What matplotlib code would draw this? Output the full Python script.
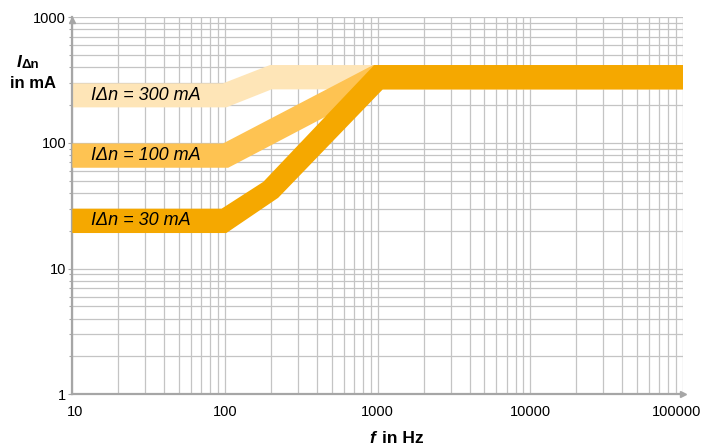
import matplotlib
matplotlib.use("Agg")
import matplotlib.pyplot as plt
import matplotlib.transforms as mtransforms
from matplotlib.ticker import LogLocator, NullFormatter

# =========================
# Data
# =========================

# band edges, frequency in Hz / current in mA
f_300_up = [10, 97, 197, 100000]
i_300_up = [298, 298, 417, 417]
f_300_lo = [10, 102, 202, 100000]
i_300_lo = [192, 192, 267, 267]

f_100_up = [10, 97, 935, 100000]
i_100_up = [99, 99, 417, 417]
f_100_lo = [10, 105, 1000, 100000]
i_100_lo = [63.5, 63.5, 267, 267]

f_30_up = [10, 95, 178, 950, 100000]
i_30_up = [30, 30, 49, 417, 417]
f_30_lo = [10, 102, 223, 1080, 100000]
i_30_lo = [19.2, 19.2, 36.6, 267, 267]

band_labels = ["I\u0394n = 300 mA", "I\u0394n = 100 mA", "I\u0394n = 30 mA"]
label_f = 13.2

x_ticks = [10, 100, 1000, 10000, 100000]
x_tick_labels = ["10", "100", "1000", "10000", "100000"]
y_ticks = [1, 10, 100, 1000]
y_tick_labels = ["1", "10", "100", "1000"]

# =========================
# Style
# =========================

plt.rcParams['font.family'] = ['Liberation Sans', 'DejaVu Sans']

c_300 = "#fee5b7"
c_100 = "#fec352"
c_30 = "#f5a800"
grid_c = "#c4c4c4"
axis_c = "#a6a6a6"

fig = plt.figure(figsize=(7.05, 4.47), dpi=100)
ax = fig.add_axes([0.1026, 0.1179, 0.8662, 0.8434])

ax.set_xscale("log")
ax.set_yscale("log")
ax.set_xlim(10, 100000)
ax.set_ylim(1, 1000)

# =========================
# Bands
# =========================

bands = [
    (f_300_up, i_300_up, f_300_lo, i_300_lo, c_300),
    (f_100_up, i_100_up, f_100_lo, i_100_lo, c_100),
    (f_30_up, i_30_up, f_30_lo, i_30_lo, c_30),
]

for k, (fu, iu, fl, il, col) in enumerate(bands):
    xs = list(fu) + list(fl[::-1])
    ys = list(iu) + list(il[::-1])
    ax.fill(xs, ys, color=col, lw=0, zorder=2 + k)
    mid = (iu[0] * il[0]) ** 0.5
    ax.text(label_f, mid, band_labels[k], fontsize=13, style="italic",
            ha="left", va="center", color="black", zorder=6)

# =========================
# Grid and axes
# =========================

ax.xaxis.set_minor_locator(LogLocator(base=10, subs=range(2, 10)))
ax.yaxis.set_minor_locator(LogLocator(base=10, subs=range(2, 10)))
ax.xaxis.set_minor_formatter(NullFormatter())
ax.yaxis.set_minor_formatter(NullFormatter())

ax.set_xticks(x_ticks)
ax.set_xticklabels(x_tick_labels)
ax.set_yticks(y_ticks)
ax.set_yticklabels(y_tick_labels)

ax.grid(True, which="both", color=grid_c, lw=0.9)
ax.set_axisbelow(True)

for s in ["top", "right"]:
    ax.spines[s].set_visible(False)
for s in ["left", "bottom"]:
    ax.spines[s].set_color(axis_c)
    ax.spines[s].set_linewidth(1.6)

ax.tick_params(axis="x", which="both", length=0, pad=7.5, labelsize=10.5)
ax.tick_params(axis="y", which="major", length=3, width=0.8, color=axis_c,
               pad=1.5, labelsize=10.5)
ax.tick_params(axis="y", which="minor", length=2, width=0.8, color=axis_c)

# nudge first and last x labels like the original
xlabels = ax.get_xticklabels()
for lab, dx in [(xlabels[0], 3), (xlabels[-1], -6)]:
    lab.set_transform(lab.get_transform() +
                      mtransforms.ScaledTranslation(dx / 100, 0, fig.dpi_scale_trans))

# axis arrows
ax.plot([1], [0], marker=">", ms=5, color=axis_c, transform=ax.transAxes,
        clip_on=False, zorder=7)
ax.plot([0], [0.993], marker="^", ms=4, color=axis_c, transform=ax.transAxes,
        clip_on=False, zorder=7)

# =========================
# Axis titles
# =========================

fig.text(17 / 705, 1 - 67 / 447, "I", fontsize=12.5, fontweight="bold",
         style="italic", ha="left", va="baseline")
fig.text(22 / 705, 1 - 68.5 / 447, "\u0394n", fontsize=9.5, fontweight="bold",
         ha="left", va="baseline")
fig.text(32.5 / 705, 1 - 88 / 447, "in mA", fontsize=12, fontweight="bold",
         ha="center", va="baseline")

fig.text(369 / 705, 1 - 443 / 447, "f", fontsize=12.5, fontweight="bold",
         style="italic", ha="left", va="baseline")
fig.text(424 / 705, 1 - 443 / 447, "in Hz", fontsize=12.5, fontweight="bold",
         ha="right", va="baseline")

fig.savefig("out.png", dpi=100)
